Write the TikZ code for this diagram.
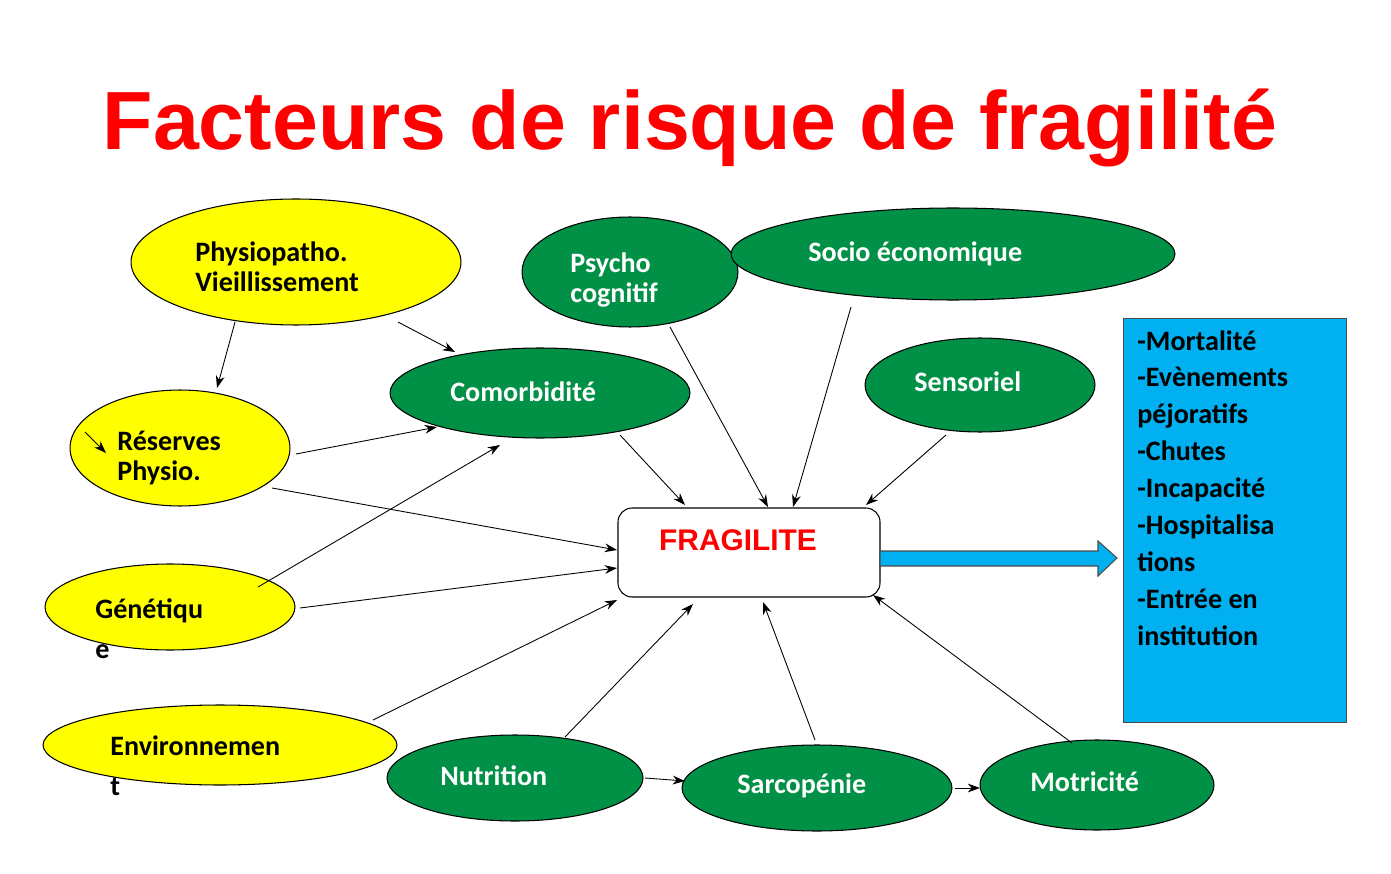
\documentclass[tikz,border=0pt]{standalone}
\usepackage{fontspec}
\setmainfont{Carlito}
\newfontfamily\titlefont{Liberation Sans}
\usetikzlibrary{shapes.geometric,arrows.meta}
\definecolor{ygreen}{RGB}{0,145,70}
\definecolor{yyel}{RGB}{255,255,0}
\definecolor{bbox}{RGB}{0,176,240}
\tikzset{
 ov/.style={ellipse,draw=black,line width=0.6pt,inner sep=0pt},
 yel/.style={ov,fill=yyel},
 grn/.style={ov,fill=ygreen},
 lbl/.style={anchor=west,font=\fontsize{16}{19}\selectfont\bfseries,align=left,inner sep=0pt},
 wl/.style={lbl,text=white},
 ar/.style={-{Stealth[length=7pt,width=5pt]},line width=0.5pt}
}
\begin{document}
\begin{tikzpicture}[x=0.02cm,y=-0.02cm]
\useasboundingbox[fill=white] (0,0) rectangle (1391,874);
\node[font=\titlefont\fontsize{47}{50}\selectfont\bfseries,text=red] (title) at (690,128) {Facteurs de risque de fragilité};
% ellipses
\node[yel,minimum width=6.6cm,minimum height=2.52cm] (phys) at (296,262) {};
\node[yel,minimum width=4.4cm,minimum height=2.32cm] (res) at (180,448) {};
\node[yel,minimum width=5cm,minimum height=1.72cm] (gen) at (170,607) {};
\node[yel,minimum width=7.08cm,minimum height=1.6cm] (env) at (220,745) {};
\node[grn,minimum width=4.32cm,minimum height=2.2cm] (psy) at (630,272) {};
\node[grn,minimum width=8.88cm,minimum height=1.84cm] (soc) at (953,254) {};
\node[grn,minimum width=6cm,minimum height=1.8cm] (com) at (540,393) {};
\node[grn,minimum width=4.6cm,minimum height=1.88cm] (sen) at (980,385) {};
\node[grn,minimum width=5.12cm,minimum height=1.72cm] (nut) at (515,778) {};
\node[grn,minimum width=5.4cm,minimum height=1.72cm] (sar) at (817,788) {};
\node[grn,minimum width=4.68cm,minimum height=1.8cm] (mot) at (1097,785) {};
% labels
\node[lbl] (tphys) at (195,267) {Physiopatho.\\[-2pt]Vieillissement};
\node[lbl] (tres) at (117,458) {Réserves\\[-2pt]Physio.};
\node[lbl] (tgen) at (95,629) {Génétiqu\\[4pt]e};
\node[lbl] (tenv) at (110,766) {Environnemen\\[4pt]t};
\node[wl] (tpsy) at (570,280) {Psycho\\[-2pt]cognitif};
\node[wl] (tsoc) at (808,254) {Socio économique};
\node[wl] (tcom) at (450,392) {Comorbidité};
\node[wl] (tsen) at (914,382) {Sensoriel};
\node[wl] (tnut) at (440,776) {Nutrition};
\node[wl] (tsar) at (737,786) {Sarcopénie};
\node[wl] (tmot) at (1030,782) {Motricité};
% fragilite
\draw[rounded corners=8pt,fill=white,line width=0.6pt] (618,508) rectangle (880,597);
\node[font=\titlefont\fontsize{17}{20}\selectfont\bfseries,text=red] (frag) at (738,540) {FRAGILITE};
% blue box
\node[draw=black!70,fill=bbox,line width=0.6pt,minimum width=4.46cm,minimum height=8.08cm,anchor=north west,inner sep=0pt] (out) at (1123,318) {};
\node[lbl,anchor=north west,font=\fontsize{16}{21}\selectfont\bfseries] (tout) at (1137,330) {-Mortalité\\-Evènements\\péjoratifs\\-Chutes\\-Incapacité\\-Hospitalisa\\tions\\-Entrée en\\institution};
% big arrow
\draw[fill=bbox,draw=black!70,line width=0.6pt] (880,551) -- (1098,551) -- (1098,541) -- (1117,558) -- (1098,576) -- (1098,566) -- (880,566) -- cycle;
% arrows
\draw[ar] (235,322) -- (217,388);
\draw[ar] (398,322) -- (455,352);
\draw[ar] (296,454) -- (437,427);
\draw[ar] (272,488) -- (617,550);
\draw[ar] (258,587) -- (500,445);
\draw[ar] (300,608) -- (617,568);
\draw[ar] (373,720) -- (617,600);
\draw[ar] (565,737) -- (693,604);
\draw[ar] (645,778) -- (685,781);
\draw[ar] (815,740) -- (763,602);
\draw[ar] (955,788) -- (980,788);
\draw[ar] (1072,743) -- (873,595);
\draw[ar] (620,435) -- (685,505);
\draw[ar] (670,327) -- (768,507);
\draw[ar] (851,307) -- (793,507);
\draw[ar] (946,435) -- (866,505);
\draw[ar] (85,432) -- (106,453);
\end{tikzpicture}
\end{document}
